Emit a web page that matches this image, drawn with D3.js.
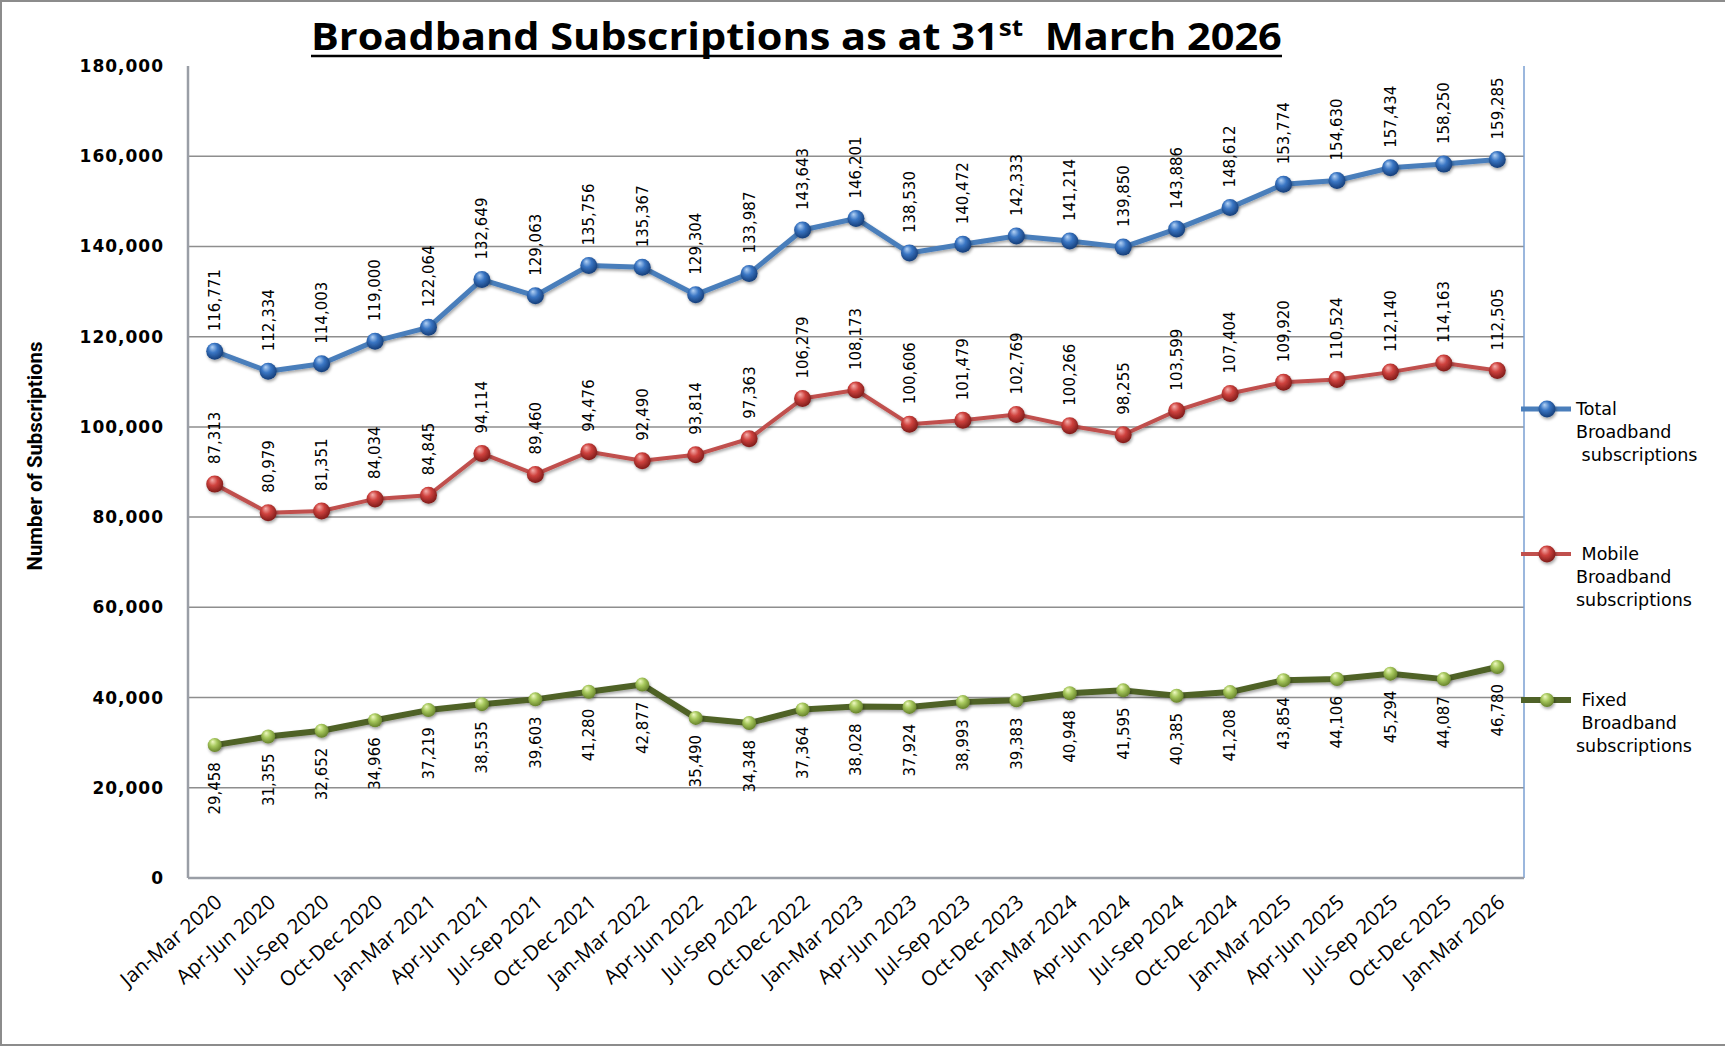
<!DOCTYPE html>
<html>
<head>
<meta charset="utf-8">
<script src="https://cdn.jsdelivr.net/npm/d3@7"></script>
<style>
  body { margin: 0; background: #fff; }
</style>
</head>
<body>
<svg id="chart"></svg>
<script>
const categories = [
    "Jan-Mar 2020", "Apr-Jun 2020", "Jul-Sep 2020", "Oct-Dec 2020",
    "Jan-Mar 2021", "Apr-Jun 2021", "Jul-Sep 2021", "Oct-Dec 2021",
    "Jan-Mar 2022", "Apr-Jun 2022", "Jul-Sep 2022", "Oct-Dec 2022",
    "Jan-Mar 2023", "Apr-Jun 2023", "Jul-Sep 2023", "Oct-Dec 2023",
    "Jan-Mar 2024", "Apr-Jun 2024", "Jul-Sep 2024", "Oct-Dec 2024",
    "Jan-Mar 2025", "Apr-Jun 2025", "Jul-Sep 2025", "Oct-Dec 2025",
    "Jan-Mar 2026"
];
const totalBroadband = [116771, 112334, 114003, 119000, 122064, 132649, 129063, 135756, 135367, 129304, 133987, 143643,
    146201, 138530, 140472, 142333, 141214, 139850, 143886, 148612, 153774, 154630, 157434, 158250, 159285];
const mobileBroadband = [87313, 80979, 81351, 84034, 84845, 94114, 89460, 94476, 92490, 93814, 97363, 106279,
    108173, 100606, 101479, 102769, 100266, 98255, 103599, 107404, 109920, 110524, 112140, 114163, 112505];
const fixedBroadband = [29458, 31355, 32652, 34966, 37219, 38535, 39603, 41280, 42877, 35490, 34348, 37364,
    38028, 37924, 38993, 39383, 40948, 41595, 40385, 41208, 43854, 44106, 45294, 44087, 46780];
const yTicks = [0, 20000, 40000, 60000, 80000, 100000, 120000, 140000, 160000, 180000];
const seriesNames = [["Total", "Broadband", " subscriptions"], [" Mobile", "Broadband", "subscriptions"], [" Fixed", " Broadband", "subscriptions"]];

const W = 1725, H = 1048;
const margin = { top: 66, right: 201, bottom: 170, left: 188 };
const width = W - margin.left - margin.right,
      height = H - margin.top - margin.bottom;

const svg = d3.select("#chart").attr("width", W).attr("height", H);
const defs = svg.append("defs");

// outer frame
svg.append("rect")
    .attr("x", 1).attr("y", 1).attr("width", W + 10).attr("height", 1044)
    .attr("fill", "#fff").attr("stroke", "#8c8c8c").attr("stroke-width", 2);

const xScale = d3.scaleBand().domain(categories).range([0, width]);
const yScale = d3.scaleLinear().domain([0, 180000]).range([height, 0]);
const px = c => xScale(c) + xScale.bandwidth() / 2;

const g = svg.append("g").attr("transform", `translate(${margin.left},${margin.top})`);

// gridlines
g.selectAll(".grid").data(yTicks.slice(1, -1)).enter().append("line")
    .attr("x1", 0).attr("x2", width)
    .attr("y1", d => yScale(d)).attr("y2", d => yScale(d))
    .attr("stroke", "#8e8e8e").attr("stroke-width", 1.5);

// plot frame
const topGrad = defs.append("linearGradient").attr("id", "topGrad");
topGrad.append("stop").attr("offset", "0%").attr("stop-color", "#8aa3c8");
topGrad.append("stop").attr("offset", "50%").attr("stop-color", "#c9d5e8");
topGrad.append("stop").attr("offset", "100%").attr("stop-color", "#5b86c0");
g.append("line").attr("x1", 0).attr("x2", width).attr("y1", 0).attr("y2", 0)
    .attr("stroke", "url(#topGrad)").attr("stroke-width", 2);
g.append("line").attr("x1", width).attr("x2", width).attr("y1", 0).attr("y2", height)
    .attr("stroke", "#7a9fd2").attr("stroke-width", 1.5);
g.append("line").attr("x1", 0).attr("x2", width).attr("y1", height).attr("y2", height)
    .attr("stroke", "#9a9ea6").attr("stroke-width", 2.5);
g.append("line").attr("x1", 0).attr("x2", 0).attr("y1", 0).attr("y2", height)
    .attr("stroke", "#9a9ea6").attr("stroke-width", 2.5);

// y axis
g.append("g")
    .call(d3.axisLeft(yScale).tickValues(yTicks).tickSize(0).tickPadding(24).tickFormat(d3.format(",")))
    .call(a => a.select(".domain").remove())
    .selectAll("text")
    .style("font-family", "'DejaVu Sans', sans-serif")
    .style("font-weight", "bold")
    .style("font-size", "17px")
    .style("letter-spacing", "1px")
    .attr("fill", "#000");

// x axis labels
g.append("g").selectAll("text").data(categories).enter().append("text")
    .attr("transform", d => `translate(${px(d) + 4},${height + 21}) rotate(-41)`)
    .attr("text-anchor", "end")
    .attr("dy", "0.35em")
    .style("font-family", "'Open Sans', sans-serif")
    .style("font-size", "20.5px")
    .text(d => d);

// y axis title
const yTitle = svg.append("text")
    .attr("transform", "translate(42,456) rotate(-90)")
    .attr("text-anchor", "middle")
    .style("font-family", "'Liberation Sans Narrow', 'Roboto', sans-serif")
    .style("font-weight", "bold")
    .style("font-size", "21px")
    .text("Number of Subscriptions");
const ytw = yTitle.node().getComputedTextLength();
yTitle.attr("transform", `translate(42,456) rotate(-90) scale(${229 / ytw},1)`);

// title
const title = svg.append("text")
    .attr("x", 0).attr("y", 0)
    .style("font-family", "'Open Sans', sans-serif")
    .style("font-weight", "bold")
    .style("font-size", "38px");
title.append("tspan").text("Broadband Subscriptions as at 31");
title.append("tspan").attr("dy", -14).style("font-size", "24px").text("st");
title.append("tspan").attr("dy", 14).text("\u00a0 March 2026");
const tw = title.node().getBBox().width;
const ts = 971 / tw;
const titleG = svg.append("g").attr("transform", `translate(311,50) scale(${ts},1)`);
titleG.node().appendChild(title.node());
titleG.append("line").attr("x1", 0).attr("x2", tw).attr("y1", 6).attr("y2", 6)
    .attr("stroke", "#000").attr("stroke-width", 2.5);

// sphere gradients
const sphere = (id, hi, mid, edge) => {
    const rg = defs.append("radialGradient").attr("id", id)
        .attr("cx", "45%").attr("cy", "40%").attr("r", "60%").attr("fx", "35%").attr("fy", "25%");
    rg.append("stop").attr("offset", "0%").attr("stop-color", hi);
    rg.append("stop").attr("offset", "45%").attr("stop-color", mid);
    rg.append("stop").attr("offset", "100%").attr("stop-color", edge);
};
sphere("sBlue", "#b5d3f5", "#3a76c4", "#153d78");
sphere("sRed", "#f6b1ae", "#cf423e", "#7e1b19");
sphere("sGreen", "#f0fac4", "#a8c95e", "#66822a");

const shadow = defs.append("filter").attr("id", "shadow").attr("x", "-50%").attr("y", "-50%").attr("width", "200%").attr("height", "200%");
shadow.append("feDropShadow").attr("dx", 1).attr("dy", 2).attr("stdDeviation", 1.5)
    .attr("flood-color", "#000").attr("flood-opacity", 0.35);

const series = [
    { name: seriesNames[0], values: totalBroadband, line: "#4a7ebb", lw: 5, fill: "url(#sBlue)", r: 8.5, labelPos: "above", legendY: 409 },
    { name: seriesNames[1], values: mobileBroadband, line: "#c0504d", lw: 4, fill: "url(#sRed)", r: 8.5, labelPos: "above", legendY: 554 },
    { name: seriesNames[2], values: fixedBroadband, line: "#4f6228", lw: 6, fill: "url(#sGreen)", r: 7, labelPos: "below", legendY: 700 }
];

const line = d3.line().x(d => px(d.c)).y(d => yScale(d.v));

series.forEach(s => {
    const pts = categories.map((c, i) => ({ c, v: s.values[i] }));

    g.append("path").datum(pts)
        .attr("d", line)
        .attr("fill", "none")
        .attr("stroke", s.line)
        .attr("stroke-width", s.lw)
        .attr("stroke-linejoin", "round")
        .attr("filter", "url(#shadow)");

    g.selectAll(null).data(pts).enter().append("circle")
        .attr("cx", d => px(d.c)).attr("cy", d => yScale(d.v))
        .attr("r", s.r)
        .attr("fill", s.fill)
        .attr("filter", "url(#shadow)");

    g.selectAll(null).data(pts).enter().append("text")
        .attr("transform", d => s.labelPos === "above"
            ? `translate(${px(d.c)},${yScale(d.v) - 20}) rotate(-90)`
            : `translate(${px(d.c)},${yScale(d.v) + 17}) rotate(-90)`)
        .attr("text-anchor", s.labelPos === "above" ? "start" : "end")
        .attr("dy", "0.36em")
        .style("font-family", "'DejaVu Sans', sans-serif")
        .style("font-size", "15px")
        .text(d => d3.format(",")(d.v));

    // legend
    const lg = svg.append("g").attr("transform", `translate(1521,${s.legendY})`);
    lg.append("line").attr("x1", 0).attr("x2", 50).attr("y1", 0).attr("y2", 0)
        .attr("stroke", s.line).attr("stroke-width", s.lw);
    lg.append("circle").attr("cx", 26).attr("cy", 0).attr("r", s.r)
        .attr("fill", s.fill).attr("filter", "url(#shadow)");
    lg.append("text")
        .attr("x", 55).attr("y", 0)
        .style("font-family", "'DejaVu Sans', sans-serif")
        .style("font-size", "17.5px")
        .style("white-space", "pre")
        .selectAll("tspan").data(s.name).enter().append("tspan")
        .attr("x", 55)
        .attr("y", (d, i) => i * 23)
        .attr("dy", "0.35em")
        .text(d => d);
});
</script>
</body>
</html>
